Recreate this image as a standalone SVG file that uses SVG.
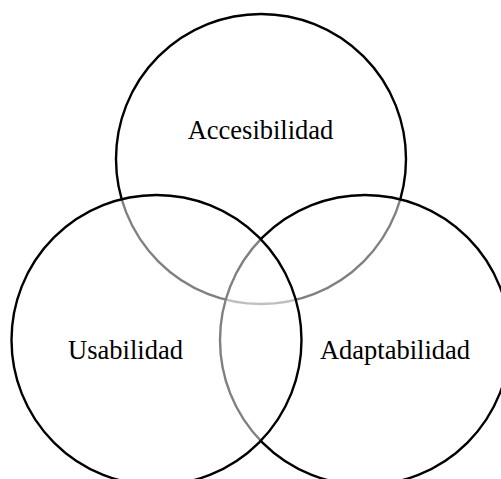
<svg xmlns="http://www.w3.org/2000/svg" width="501" height="479" viewBox="0 0 501 479">
<style>
.set{fill:#ffffff;fill-opacity:0.5;stroke:#000;stroke-width:2.4}
.lbl{font-family:"Liberation Serif","Times New Roman",serif;font-size:26.5px;fill:#000;text-anchor:middle}
</style>
<rect width="501" height="479" fill="#fff"/>
<g id="accesibilidad">
<circle class="set" cx="261" cy="159" r="145"/>
</g>
<g id="adaptabilidad">
<circle class="set" cx="365" cy="340" r="145"/>
</g>
<g id="usabilidad">
<circle class="set" cx="156.5" cy="340" r="145"/>
</g>
<g id="labels">
<text class="lbl" x="260.5" y="138.5">Accesibilidad</text>
<text class="lbl" x="125.5" y="358.5">Usabilidad</text>
<text class="lbl" x="395" y="358.5">Adaptabilidad</text>
</g>
<g id="connectors"/>
</svg>
